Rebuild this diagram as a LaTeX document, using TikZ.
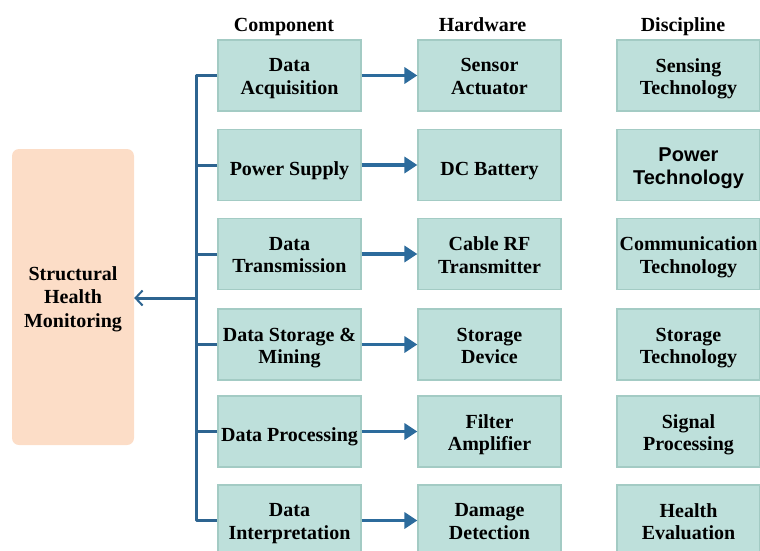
\documentclass[tikz,border=0pt]{standalone}
\usepackage{fontspec}
\setmainfont{Liberation Serif}
\newfontfamily\arialf{Liberation Sans}
\usetikzlibrary{arrows.meta}
\definecolor{boxfill}{HTML}{BEE0DB}
\definecolor{boxline}{HTML}{A3CBC4}
\definecolor{peach}{HTML}{FCDDC7}
\definecolor{busblue}{HTML}{2D6490}
\definecolor{arrblue}{HTML}{2C6B9C}
\tikzset{
  x=1pt, y=-1pt,
  cbox/.style={draw=boxline, line width=1.2pt, fill=boxfill, minimum width=143pt, minimum height=71pt,
    inner sep=0pt},
  txt/.style={inner sep=0pt, align=center, font=\fontsize{20}{22.5}\selectfont\bfseries,
    execute at begin node=\strut, execute at end node=\strut},
  hdr/.style={font=\fontsize{20}{23}\selectfont\bfseries, inner sep=0pt, anchor=base},
  shmbox/.style={fill=peach, rounded corners=7pt, minimum width=122pt, minimum height=296pt, inner sep=0pt},
  shmtxt/.style={inner sep=0pt, align=center, font=\fontsize{20}{23.5}\selectfont\bfseries,
    execute at begin node=\strut, execute at end node=\strut},
  bus/.style={draw=busblue, line width=3pt},
  harrow/.style={draw=arrblue, line width=3.5pt, -{Triangle[length=13pt,width=16pt]}},
  backarrow/.style={draw=busblue, line width=3pt, -{Straight Barb[length=7pt,width=15pt,line width=2pt]}},
  one/.style={yshift=-1pt},
}
% \mkbox[text options]{name}{x}{y}{text}
\newcommand\mkbox[5][]{%
  \node[cbox] (#2) at (#3,#4) {};
  \node[txt,#1] (#2t) at ([yshift=-4.5pt]#2.center) {#5};
}
\begin{document}
\begin{tikzpicture}
\useasboundingbox (0,0) rectangle (760,551);
% headers
\node[hdr] (hc) at (284,31.5) {Component};
\node[hdr] (hh) at (482.5,31.5) {Hardware};
\node[hdr] (hd) at (683,31.5) {Discipline};
% SHM
\node[shmbox] (shm) at (73,297) {};
\node[shmtxt] (shmt) at ([yshift=-3.3pt]shm.center) {Structural\\Health\\Monitoring};
% component column
\mkbox{c1}{289.5}{75.5}{Data\\Acquisition}
\mkbox[one]{c2}{289.5}{165}{Power Supply}
\mkbox{c3}{289.5}{254}{Data\\Transmission}
\mkbox{c4}{289.5}{344.5}{Data Storage \&\\Mining}
\mkbox[one]{c5}{289.5}{431.5}{Data Processing}
\mkbox{c6}{289.5}{520.5}{Data\\Interpretation}
% hardware column
\mkbox{h1}{489.5}{75.5}{Sensor\\Actuator}
\mkbox[one]{h2}{489.5}{165}{DC Battery}
\mkbox{h3}{489.5}{254}{Cable RF\\Transmitter}
\mkbox{h4}{489.5}{344.5}{Storage\\Device}
\mkbox{h5}{489.5}{431.5}{Filter\\Amplifier}
\mkbox{h6}{489.5}{520.5}{Damage\\Detection}
% discipline column
\mkbox{d1}{688.5}{75.5}{Sensing\\Technology}
\mkbox[font=\fontsize{20}{22.5}\selectfont\arialf\bfseries]{d2}{688.5}{165}{Power\\Technology}
\mkbox{d3}{688.5}{254}{Communication\\Technology}
\mkbox{d4}{688.5}{344.5}{Storage\\Technology}
\mkbox{d5}{688.5}{431.5}{Signal\\Processing}
\mkbox{d6}{688.5}{520.5}{Health\\Evaluation}
% bus
\coordinate (bt) at (196,75.5);
\coordinate (bb) at (196,520.5);
\coordinate (bm) at (196,298);
\draw[bus, line join=round] (c1.west) -- (bt) -- (bb) -- (c6.west);
\foreach \i in {2,3,4,5} {
  \draw[bus] (c\i.west) -- (c\i.west -| bt);
}
\draw[backarrow] (bm) -- (shm.east |- bm);
% component to hardware arrows
\foreach \i in {1,...,6} {
  \draw[harrow] (c\i.east) -- (h\i.west);
}
\end{tikzpicture}
\end{document}
